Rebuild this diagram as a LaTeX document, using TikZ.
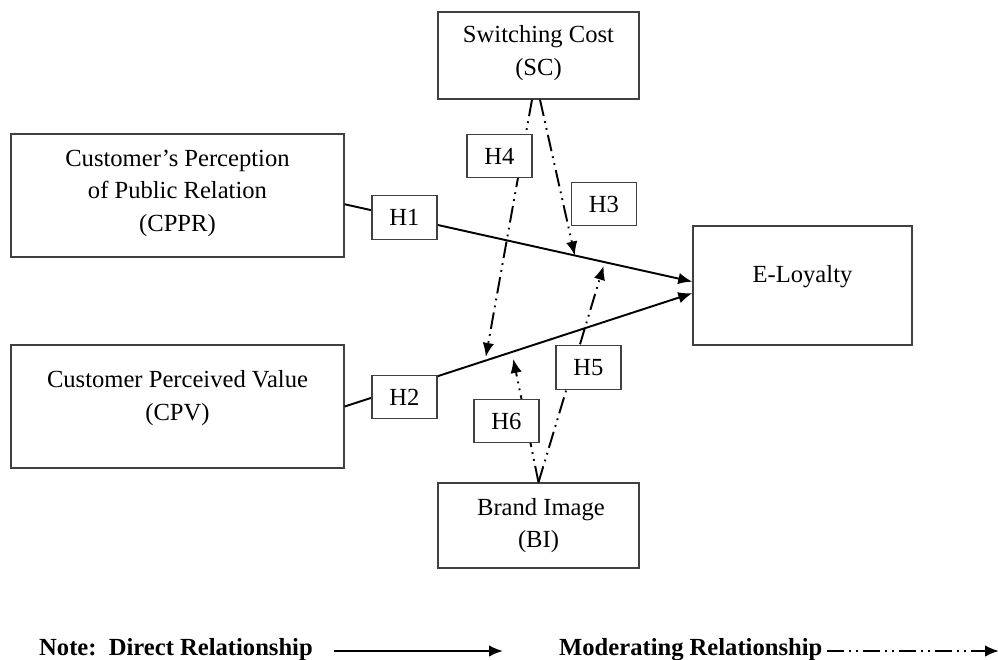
\documentclass[tikz,border=0pt]{standalone}
\usepackage{fontspec}
\setmainfont{Liberation Serif}
\usetikzlibrary{arrows.meta, calc}

\begin{document}
\begin{tikzpicture}[construct/.style={draw=black!75, line width=0.8pt, fill=white, align=center, inner sep=0pt},
		hyp/.style={draw=black!75, line width=0.8pt, fill=white, minimum width=1.3cm, minimum height=0.87cm, inner sep=0pt},
		direct/.style={line width=1.1pt, -{Latex[length=2.8mm, width=2.3mm]}},
		moderate/.style={line width=1.1pt, dash pattern=on 9.5pt off 3pt on 1pt off 3pt on 1pt off 3pt, -{Latex[length=2.8mm, width=2.3mm]}},
		font=\fontsize{14pt}{18.5pt}\selectfont]
		\useasboundingbox (0,0) rectangle (19.96,-13.2);
		\node[construct, minimum width=4.02cm, minimum height=1.74cm, text depth=0.2cm] (SC) at (10.77, -1.11) {Switching Cost\\(SC)};
		\node[construct, minimum width=6.66cm, minimum height=2.46cm, text depth=0.2cm] (CPPR) at (3.55, -3.91) {Customer's Perception\\of Public Relation\\(CPPR)};
		\node[construct, minimum width=6.66cm, minimum height=2.46cm, text depth=0.45cm] (CPV) at (3.55, -8.13) {Customer Perceived Value\\(CPV)};
		\node[construct, minimum width=4.38cm, minimum height=2.38cm, text depth=0.45cm] (EL) at (16.05, -5.71) {E-Loyalty};
		\node[construct, minimum width=4.02cm, minimum height=1.70cm] (BI) at (10.77, -10.51) {\hspace{0.1cm}Brand Image\\(BI)};
		\path (CPPR.-3) -- (EL.178) coordinate[pos=0.662] (m3) coordinate[pos=0.748] (m5);
		\path (CPV.east) -- (EL.184) coordinate[pos=0.404] (m4) coordinate[pos=0.481] (m6);
		\draw[direct] (CPPR.-3) -- (EL.178);
		\draw[direct] (CPV.east) -- (EL.184);
		\draw[moderate] ([xshift=0.03cm]SC.south) -- (m3);
		\draw[moderate, shorten >=2.2pt] ([xshift=-0.13cm]SC.south) -- (m4);
		\draw[moderate, shorten >=2.2pt] (BI.north) -- (m5);
		\draw[moderate, shorten >=4pt] (BI.north) -- (m6);
		\node[hyp] (H1) at (8.09, -4.35) {H1};
		\node[hyp] (H2) at (8.09, -7.94) {H2};
		\node[hyp] (H3) at (12.08, -4.08) {H3};
		\node[hyp] (H4) at (9.99, -3.12) {H4};
		\node[hyp] (H5) at (11.77, -7.35) {H5};
		\node[hyp] (H6) at (10.13, -8.42) {H6};
		% legend
		\node[anchor=base west, font=\fontsize{14pt}{18.5pt}\selectfont\bfseries] (note) at (0.66, -13.12) {Note:\ \ Direct Relationship};
		\coordinate (d1) at (6.68, -13.02);
		\coordinate (d2) at (10.06, -13.02);
		\draw[direct] (d1) -- (d2);
		\node[anchor=base west, font=\fontsize{14pt}{18.5pt}\selectfont\bfseries] (modnote) at (11.06, -13.12) {Moderating Relationship};
		\coordinate (e1) at (16.54, -13.02);
		\coordinate (e2) at (19.98, -13.02);
		\draw[moderate] (e1) -- (e2);
	\end{tikzpicture}
\end{document}
